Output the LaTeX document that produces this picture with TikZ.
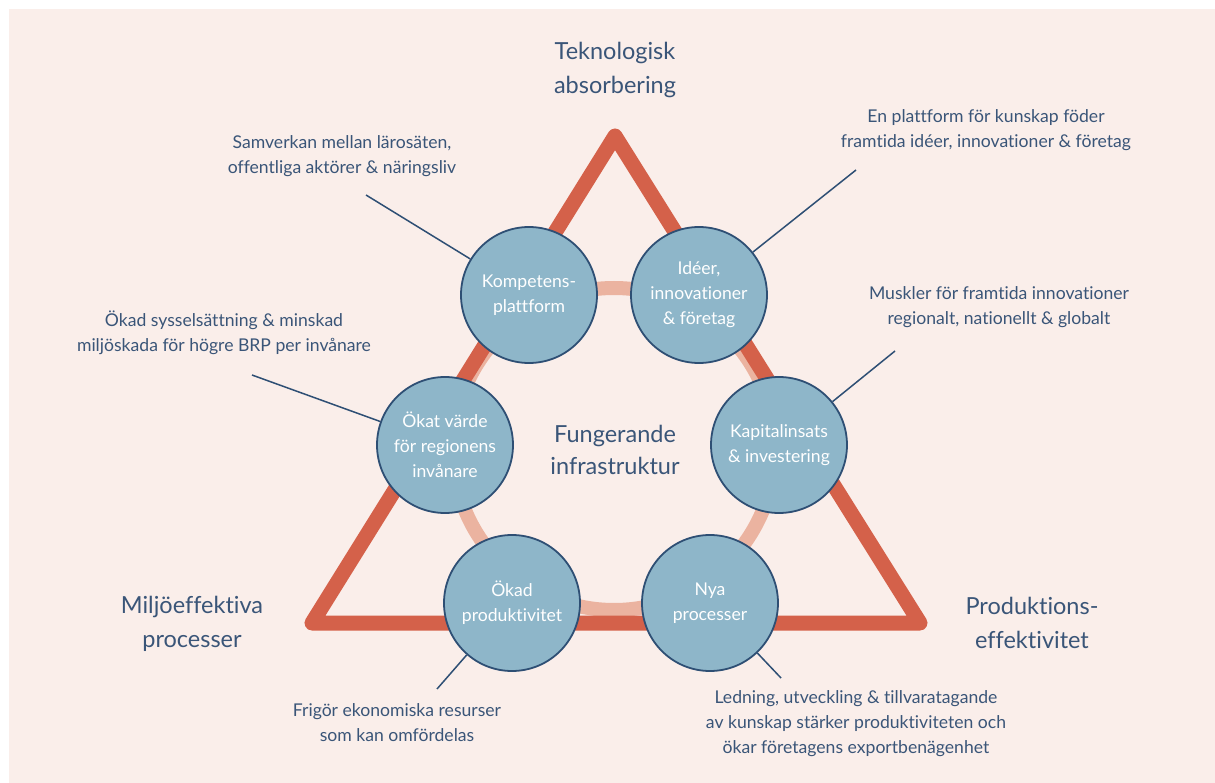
\documentclass[tikz,border=0pt]{standalone}
\usepackage{fontspec}
\setmainfont{Lato}[Ligatures={NoCommon}]
\definecolor{bg}{HTML}{FAEEEA}
\definecolor{tri}{HTML}{D4614A}
\definecolor{ringc}{HTML}{EBB3A0}
\definecolor{cfill}{HTML}{8EB6C9}
\definecolor{cline}{HTML}{2E4F74}
\definecolor{txt}{HTML}{3A5578}
\begin{document}
\begin{tikzpicture}[x=1pt,y=-1pt,
 bubble/.style={circle,fill=cfill,draw=cline,line width=1.8pt,minimum size=136pt,inner sep=0pt,text=white,align=center,font=\fontsize{17.6}{25}\selectfont},
 note/.style={text=txt,align=center,font=\fontsize{17.6}{25}\selectfont},
 corner/.style={text=txt,align=center,font=\fontsize{23.5}{34}\selectfont},
 lead/.style={draw=cline,line width=1.5pt}]
\useasboundingbox (0,0) rectangle (1215,783);
\fill[bg] (9,9) rectangle (1215,783);
\draw[ringc,line width=14pt] (614,449) circle [radius=161];
\draw[tri,line width=15pt,line join=round] (615,136) -- (920,623) -- (312,623) -- cycle;
% circles
\node[bubble] (komp) at (529,295) {Kompetens-\\plattform};
\node[bubble] (idea) at (699,295) {Idéer,\\innovationer\\\& företag};
\node[bubble] (okat) at (445,445) {Ökat värde\\för regionens\\invånare};
\node[bubble] (kap) at (779,445) {Kapitalinsats\\\& investering};
\node[bubble] (prod) at (512,603) {Ökad\\produktivitet};
\node[bubble] (nya) at (710,603) {Nya\\processer};
% corner labels
\node[corner] (tek) at (615,70) {Teknologisk\\absorbering};
\node[corner] (milj) at (192,624) {Miljöeffektiva\\processer};
\node[corner] (prodeff) at (1032,623) {Produktions-\\effektivitet};
\node[corner,font=\fontsize{23.5}{32}\selectfont] (fung) at (615,450) {Fungerande\\infrastruktur};
% notes
\node[note] (n1) at (342,156) {Samverkan mellan lärosäten,\\offentliga aktörer \& näringsliv};
\node[note] (n2) at (986,130) {En plattform för kunskap föder\\framtida idéer, innovationer \& företag};
\node[note] (n3) at (224,333) {Ökad sysselsättning \& minskad\\miljöskada för högre BRP per invånare};
\node[note] (n4) at (999,307) {Muskler för framtida innovationer\\regionalt, nationellt \& globalt};
\node[note] (n5) at (397,723) {Frigör ekonomiska resurser\\som kan omfördelas};
\node[note] (n6) at (856,724) {Ledning, utveckling \& tillvaratagande\\av kunskap stärker produktiviteten och\\ökar företagens exportbenägenhet};
% leader lines
\coordinate (c1) at (366,195);
\coordinate (c2) at (856,170);
\coordinate (c3) at (252,375);
\coordinate (c4) at (895,351);
\coordinate (c5) at (437,689);
\coordinate (c6) at (781,678);
\draw[lead] (c1) -- (komp);
\draw[lead] (c2) -- (idea);
\draw[lead] (c3) -- (okat);
\draw[lead] (c4) -- (kap);
\draw[lead] (c5) -- (prod);
\draw[lead] (c6) -- (nya);
\end{tikzpicture}
\end{document}
